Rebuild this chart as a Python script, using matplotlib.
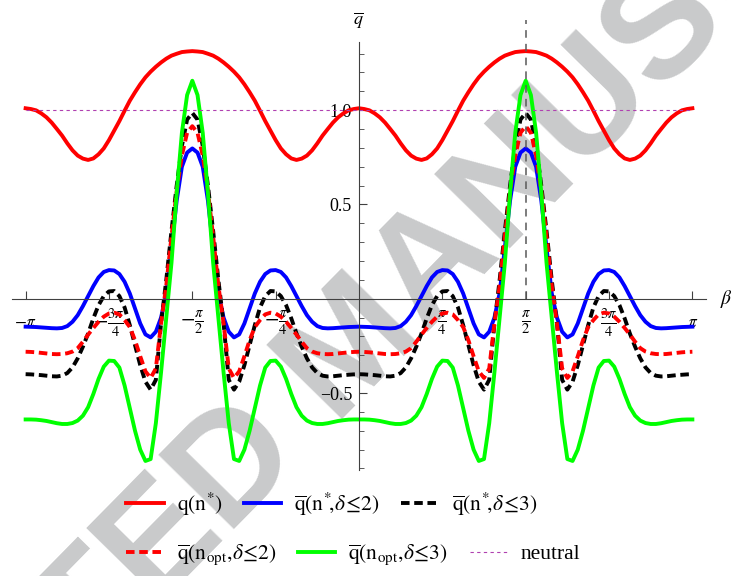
import numpy as np
import matplotlib.pyplot as plt

plt.rcParams['font.family'] = ['Liberation Serif', 'DejaVu Serif']
plt.rcParams['mathtext.fontset'] = 'stix'

# samples at beta = k*pi/64, k = 0..32 (0 <= beta <= pi/2);
# all curves are even in beta and pi-periodic, so the rest is mirrored
n_step = 64

q_star = [1.010, 1.006, 0.999, 0.983, 0.962, 0.934, 0.900, 0.865, 0.824, 0.787,
          0.759, 0.743, 0.736, 0.744, 0.766, 0.797, 0.841, 0.891, 0.942, 0.997,
          1.050, 1.095, 1.137, 1.174, 1.204, 1.230, 1.253, 1.273, 1.289, 1.299,
          1.308, 1.311, 1.313]

qbar_star_d2 = [-0.148, -0.149, -0.150, -0.152, -0.154, -0.156, -0.157, -0.155, -0.145, -0.122,
                -0.087, -0.039, 0.014, 0.067, 0.113, 0.142, 0.152, 0.150, 0.131, 0.090,
                0.028, -0.051, -0.131, -0.189, -0.205, -0.175, -0.100, 0.030, 0.270, 0.520,
                0.700, 0.775, 0.797]

qbar_star_d3 = [-0.400, -0.401, -0.403, -0.405, -0.408, -0.411, -0.412, -0.408, -0.394, -0.364,
                -0.316, -0.254, -0.184, -0.104, -0.034, 0.014, 0.039, 0.041, 0.014, -0.046,
                -0.140, -0.246, -0.352, -0.440, -0.482, -0.430, -0.130, 0.100, 0.360, 0.600,
                0.810, 0.950, 0.985]

qbar_opt_d2 = [-0.281, -0.282, -0.284, -0.287, -0.290, -0.293, -0.294, -0.293, -0.289, -0.280,
               -0.262, -0.228, -0.190, -0.155, -0.122, -0.095, -0.078, -0.074, -0.083, -0.113,
               -0.150, -0.220, -0.305, -0.385, -0.420, -0.370, -0.130, 0.070, 0.330, 0.570,
               0.760, 0.880, 0.915]

qbar_opt_d3 = [-0.640, -0.640, -0.641, -0.644, -0.648, -0.654, -0.660, -0.664, -0.664, -0.659,
               -0.646, -0.620, -0.575, -0.505, -0.425, -0.360, -0.328, -0.330, -0.365, -0.460,
               -0.580, -0.700, -0.800, -0.860, -0.850, -0.660, -0.390, -0.100, 0.190, 0.560,
               0.880, 1.080, 1.156]

neutral_level = 1.0

labels = [r'$\mathrm{q}(\mathrm{n}^{*})$',
          r'$\overline{\mathrm{q}}(\mathrm{n}^{*}\!,\!\delta\!\leq\!2)$',
          r'$\overline{\mathrm{q}}(\mathrm{n}^{*}\!,\!\delta\!\leq\!3)$',
          r'$\overline{\mathrm{q}}(\mathrm{n}_{\mathrm{opt}},\!\delta\!\leq\!2)$',
          r'$\overline{\mathrm{q}}(\mathrm{n}_{\mathrm{opt}},\!\delta\!\leq\!3)$',
          'neutral']

xtick_vals = np.array([-1, -0.75, -0.5, -0.25, 0.25, 0.5, 0.75, 1]) * np.pi
xtick_labels = [r'$-\pi$', r'$-\frac{3\pi}{4}$', r'$-\frac{\pi}{2}$', r'$-\frac{\pi}{4}$',
                r'$\frac{\pi}{4}$', r'$\frac{\pi}{2}$', r'$\frac{3\pi}{4}$', r'$\pi$']
ytick_vals = [-0.5, 0.5, 1.0]
ytick_labels = ['\u22120.5', '0.5', '1.0']


def unfold(half):
    half = np.asarray(half)
    period = np.concatenate([half, half[-2::-1]])    # 0 .. pi
    return np.concatenate([period[:0:-1], period])   # -pi .. pi


beta = np.arange(-n_step, n_step + 1) * np.pi / n_step

fig = plt.figure(figsize=(7.32, 5.76), dpi=100)
ax = fig.add_axes([12 / 732, 1 - 470 / 576, 694 / 732, 450 / 576])
ax.patch.set_visible(False)

fig.text(0.485, 0.394, 'ACCEPTED MANUSCRIPT', rotation=45.5, fontsize=111,
         fontweight='bold', family='Liberation Sans', color='#c9cacb',
         ha='center', va='center', zorder=-1)

lw = 2.8
dash = (2.2, 1.2)
l1, = ax.plot(beta, unfold(q_star), color='#ff0000', lw=lw)
l2, = ax.plot(beta, unfold(qbar_star_d2), color='#0000ff', lw=lw)
l3, = ax.plot(beta, unfold(qbar_star_d3), color='black', lw=lw, dashes=dash)
l4, = ax.plot(beta, unfold(qbar_opt_d2), color='#ff0000', lw=lw, dashes=dash)
l5, = ax.plot(beta, unfold(qbar_opt_d3), color='#00ff00', lw=lw)
l6, = ax.plot([-np.pi, np.pi], [neutral_level, neutral_level], color='#b040b0',
              lw=0.8, dashes=(3, 3))

ax.vlines(np.pi / 2, 0, 1.478, color='0.35', lw=1.1, linestyles=(0, (5, 4)))

ax.set_xlim(-3.27, 3.27)
ax.set_ylim(-0.908, 1.478)

for s in ['top', 'right']:
    ax.spines[s].set_visible(False)
ax.spines['left'].set_position(('data', 0))
ax.spines['bottom'].set_position(('data', 0))
ax.spines['left'].set_bounds(-0.908, 1.361)
for s in ['left', 'bottom']:
    ax.spines[s].set_linewidth(0.8)
    ax.spines[s].set_color('0.25')

# x tick marks only; the labels are placed below the axis by hand
ax.set_xticks(xtick_vals)
ax.set_xticklabels([])
ax.tick_params(axis='x', direction='in', length=5.8, width=0.8, color='0.25')
for val, lab in zip(xtick_vals, xtick_labels):
    size = 15 if 'frac' in lab else 12.5
    ax.annotate(lab, xy=(val, 0), xytext=(0, -17.5), textcoords='offset points',
                ha='center', va='center', fontsize=size, zorder=1)

ax.set_yticks(ytick_vals)
ax.set_yticklabels(ytick_labels)
ax.set_yticks(np.arange(-9, 14) / 10, minor=True)
ax.tick_params(axis='y', which='major', direction='in', length=5.8, width=0.8,
               color='0.25', pad=5, labelsize=13)
ax.tick_params(axis='y', which='minor', direction='in', length=3.6, width=0.6,
               color='0.25')

ax.text(0, 1.478, r'$\overline{q}$', ha='center', va='center', fontsize=13)
ax.text(3.40, 0, r'$\beta$', ha='left', va='center', fontsize=14, clip_on=False)

leg_kw = dict(loc='center left', ncol=3, frameon=False, fontsize=15.5,
              handlelength=1.75, handletextpad=0.6, columnspacing=1.0,
              borderpad=0, borderaxespad=0)
leg1 = fig.legend([l1, l2, l3], labels[:3], bbox_to_anchor=(126 / 732, 1 - 504 / 576), **leg_kw)
leg2 = fig.legend([l4, l5, l6], labels[3:], bbox_to_anchor=(126 / 732, 1 - 555 / 576), **leg_kw)

fig.savefig('out.png', dpi=100)
